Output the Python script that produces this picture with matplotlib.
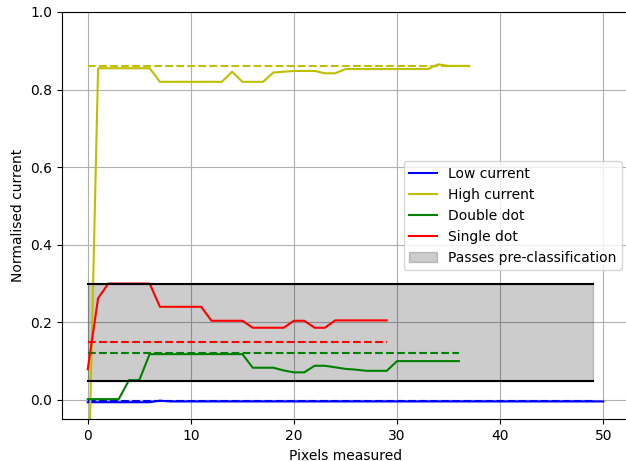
import numpy as np
import matplotlib
matplotlib.use('Agg')
import matplotlib.pyplot as plt

# --- Data
x_low  = np.arange(0, 51)
y_low  = np.array([-0.006]*7 + [-0.002] + [-0.004]*43)
low_mean, low_end = -0.004, 49

x_high = np.arange(0, 38)
y_high = np.array([-0.30, 0.855, 0.855, 0.855, 0.855, 0.855, 0.855,
                   0.820, 0.820, 0.820, 0.820, 0.820, 0.820, 0.820,
                   0.846, 0.820, 0.820, 0.820, 0.844, 0.846, 0.848,
                   0.848, 0.848, 0.842, 0.842, 0.853, 0.853, 0.853,
                   0.853, 0.853, 0.853, 0.853, 0.853, 0.853, 0.865,
                   0.861, 0.861, 0.861])
high_mean, high_end = 0.861, 37

x_double = np.arange(0, 37)
y_double = np.array([0.002, 0.002, 0.002, 0.002, 0.051, 0.051, 0.118,
                     0.118, 0.118, 0.118, 0.118, 0.118, 0.118, 0.118,
                     0.118, 0.118, 0.083, 0.083, 0.083, 0.076, 0.071,
                     0.071, 0.088, 0.088, 0.084, 0.080, 0.078, 0.075,
                     0.075, 0.075, 0.100, 0.100, 0.100, 0.100, 0.100,
                     0.100, 0.100])
double_mean, double_end = 0.122, 36

x_single = np.arange(0, 30)
y_single = np.array([0.079, 0.262, 0.300, 0.300, 0.300, 0.300, 0.300,
                     0.240, 0.240, 0.240, 0.240, 0.240, 0.204, 0.204,
                     0.204, 0.204, 0.186, 0.186, 0.186, 0.186, 0.204,
                     0.204, 0.186, 0.186, 0.205, 0.205, 0.205, 0.205,
                     0.205, 0.205])
single_mean, single_end = 0.150, 29

band_lo, band_hi, band_end = 0.05, 0.30, 49

# --- Plot
fig = plt.figure(figsize=(6.26, 4.61), dpi=100)
ax = fig.add_axes([62/626, 1-419.3/461, 567/626, 407.3/461])

ax.plot(x_low, y_low, 'b-', label='Low current')
ax.plot([0, low_end], [low_mean, low_mean], 'b--')
ax.plot(x_high, y_high, 'y-', label='High current')
ax.plot([0, high_end], [high_mean, high_mean], 'y--')
ax.plot(x_double, y_double, 'g-', label='Double dot')
ax.plot([0, double_end], [double_mean, double_mean], 'g--')
ax.plot(x_single, y_single, 'r-', label='Single dot')
ax.plot([0, single_end], [single_mean, single_mean], 'r--')

ax.plot([0, band_end], [band_hi, band_hi], 'k-')
ax.plot([0, band_end], [band_lo, band_lo], 'k-')
ax.fill_between([0, band_end], band_lo, band_hi, color='k', alpha=0.2,
                label='Passes pre-classification')

ax.set_xlim(-2.5, 52.5)
ax.set_ylim(-0.05, 1.0)
ax.set_xlabel('Pixels measured')
ax.set_ylabel('Normalised current')
ax.grid(True, color='#b0b0b0', linewidth=0.8)
ax.set_axisbelow(True)
ax.legend(loc='center right')

fig.savefig('out.png', dpi=100)
